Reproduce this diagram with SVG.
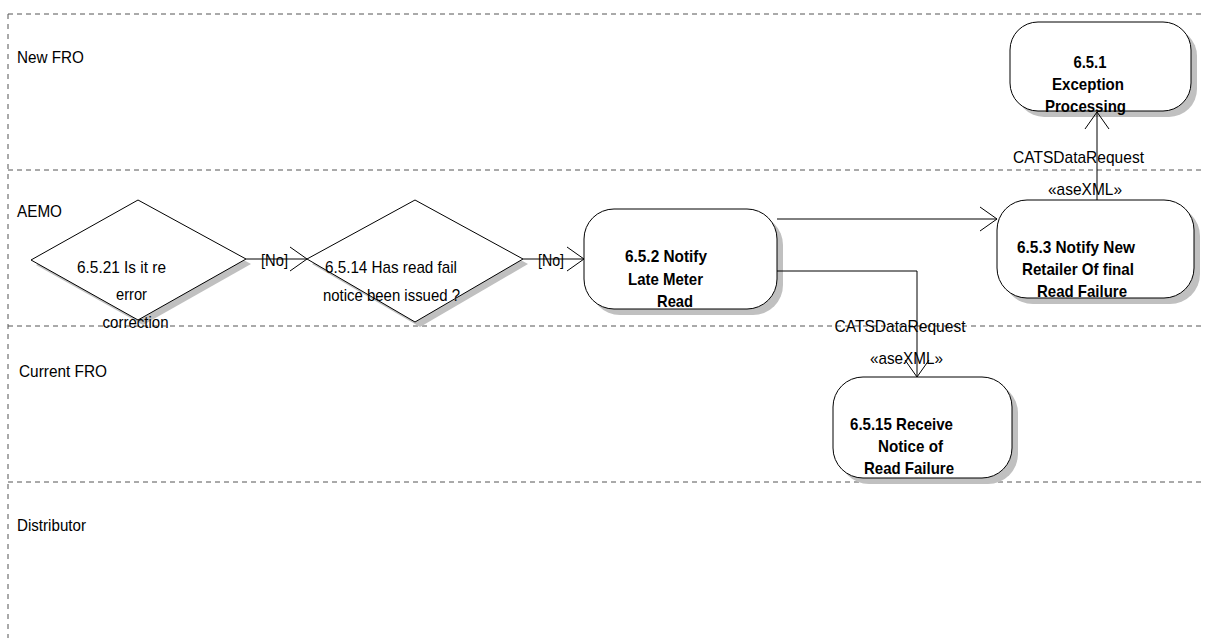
<svg xmlns="http://www.w3.org/2000/svg" width="1205" height="638" viewBox="0 0 1205 638">
<style>
.lane{stroke:#555;stroke-width:1;stroke-dasharray:5,4;fill:none}
.vlane{stroke:#555;stroke-width:1;stroke-dasharray:5,5;fill:none}
.lbl{font-family:"Liberation Sans",Arial,sans-serif;font-size:17px;fill:#000}
.bold{font-family:"Liberation Sans",Arial,sans-serif;font-size:17px;font-weight:bold;fill:#000;text-anchor:middle}
.dt{font-family:"Liberation Sans",Arial,sans-serif;font-size:17px;fill:#000;text-anchor:middle}
.node{fill:#fff;stroke:#000;stroke-width:1}
.shadow{fill:#c0c0c0;stroke:none}
.conn{fill:none;stroke:#000;stroke-width:1}
</style>
<defs>
<marker id="arr" viewBox="-20 -14 22 28" refX="0" refY="0" markerWidth="22" markerHeight="28" markerUnits="userSpaceOnUse" orient="auto">
<path d="M-17,-12 L0,0 L-17,12" fill="none" stroke="#000" stroke-width="1"/>
</marker>
</defs>
<rect x="0" y="0" width="1205" height="638" fill="#fff"/>
<g id="lanes">
<line class="lane" x1="8" y1="14" x2="1205" y2="14"/>
<line class="lane" x1="8" y1="170" x2="1205" y2="170"/>
<line class="lane" x1="8" y1="326" x2="1205" y2="326"/>
<line class="lane" x1="8" y1="482" x2="1205" y2="482"/>
<line class="vlane" x1="8" y1="14" x2="8" y2="638"/>
<text class="lbl" x="17" y="63" textLength="67" lengthAdjust="spacingAndGlyphs">New FRO</text>
<text class="lbl" x="17" y="217" textLength="45" lengthAdjust="spacingAndGlyphs">AEMO</text>
<text class="lbl" x="19" y="377" textLength="88" lengthAdjust="spacingAndGlyphs">Current FRO</text>
<text class="lbl" x="17" y="531" textLength="69" lengthAdjust="spacingAndGlyphs">Distributor</text>
</g>
<g id="n6521">
<polygon class="shadow" points="36,265 143,205 251,264 143,325"/>
<polygon class="node" points="31,260 138,200 246,259 138,320"/>
<text class="dt" x="121.5" y="273" textLength="89" lengthAdjust="spacingAndGlyphs">6.5.21 Is it re</text>
<text class="dt" x="131.5" y="300" textLength="31" lengthAdjust="spacingAndGlyphs">error</text>
<text class="dt" x="135.5" y="328" textLength="66" lengthAdjust="spacingAndGlyphs">correction</text>
</g>
<g id="n6514">
<polygon class="shadow" points="312,264 420,205 528,264 420,327"/>
<polygon class="node" points="307,259 415,200 523,259 415,322"/>
<text class="dt" x="391" y="273" textLength="132" lengthAdjust="spacingAndGlyphs">6.5.14 Has read fail</text>
<text class="dt" x="391.5" y="301" textLength="137" lengthAdjust="spacingAndGlyphs">notice been issued ?</text>
</g>
<g id="n652">
<rect class="shadow" x="590" y="215" width="193" height="100" rx="30" ry="30"/>
<rect class="node" x="584" y="209" width="193" height="100" rx="30" ry="30"/>
<text class="bold" x="666" y="262" textLength="82" lengthAdjust="spacingAndGlyphs">6.5.2 Notify</text>
<text class="bold" x="665.5" y="285" textLength="75" lengthAdjust="spacingAndGlyphs">Late Meter</text>
<text class="bold" x="675" y="307" textLength="36" lengthAdjust="spacingAndGlyphs">Read</text>
</g>
<g id="n653">
<rect class="shadow" x="1003" y="206" width="197" height="98" rx="30" ry="30"/>
<rect class="node" x="997" y="200" width="197" height="98" rx="30" ry="30"/>
<text class="bold" x="1076" y="253" textLength="118" lengthAdjust="spacingAndGlyphs">6.5.3 Notify New</text>
<text class="bold" x="1078" y="275" textLength="112" lengthAdjust="spacingAndGlyphs">Retailer Of final</text>
<text class="bold" x="1082" y="297" textLength="90" lengthAdjust="spacingAndGlyphs">Read Failure</text>
</g>
<g id="n651">
<rect class="shadow" x="1016" y="28" width="181" height="89" rx="28" ry="28"/>
<rect class="node" x="1010" y="22" width="181" height="89" rx="28" ry="28"/>
<text class="bold" x="1090" y="68" textLength="33" lengthAdjust="spacingAndGlyphs">6.5.1</text>
<text class="bold" x="1088" y="90" textLength="72" lengthAdjust="spacingAndGlyphs">Exception</text>
<text class="bold" x="1085.5" y="112" textLength="81" lengthAdjust="spacingAndGlyphs">Processing</text>
</g>
<g id="n6515">
<rect class="shadow" x="839" y="383" width="179" height="101" rx="30" ry="30"/>
<rect class="node" x="833" y="377" width="179" height="101" rx="30" ry="30"/>
<text class="bold" x="901.5" y="430" textLength="103" lengthAdjust="spacingAndGlyphs">6.5.15 Receive</text>
<text class="bold" x="910.5" y="452" textLength="65" lengthAdjust="spacingAndGlyphs">Notice of</text>
<text class="bold" x="909" y="474" textLength="90" lengthAdjust="spacingAndGlyphs">Read Failure</text>
</g>
<g id="connectors">
<line class="conn" x1="246" y1="259" x2="307" y2="259" marker-end="url(#arr)"/>
<text class="dt" x="274.5" y="266" textLength="27" lengthAdjust="spacingAndGlyphs">[No]</text>
<line class="conn" x1="523" y1="259" x2="584" y2="259" marker-end="url(#arr)"/>
<text class="dt" x="551" y="266" textLength="26" lengthAdjust="spacingAndGlyphs">[No]</text>
<line class="conn" x1="777" y1="219" x2="997" y2="219" marker-end="url(#arr)"/>
<polyline class="conn" points="777,271 917,271 917,377" marker-end="url(#arr)"/>
<text class="dt" x="900" y="332" textLength="131" lengthAdjust="spacingAndGlyphs">CATSDataRequest</text>
<text class="dt" x="906.5" y="364" textLength="73" lengthAdjust="spacingAndGlyphs">«aseXML»</text>
<line class="conn" x1="1097" y1="200" x2="1097" y2="112" marker-end="url(#arr)"/>
<text class="dt" x="1078.5" y="163" textLength="131" lengthAdjust="spacingAndGlyphs">CATSDataRequest</text>
<text class="dt" x="1085" y="195" textLength="74" lengthAdjust="spacingAndGlyphs">«aseXML»</text>
</g>
</svg>
